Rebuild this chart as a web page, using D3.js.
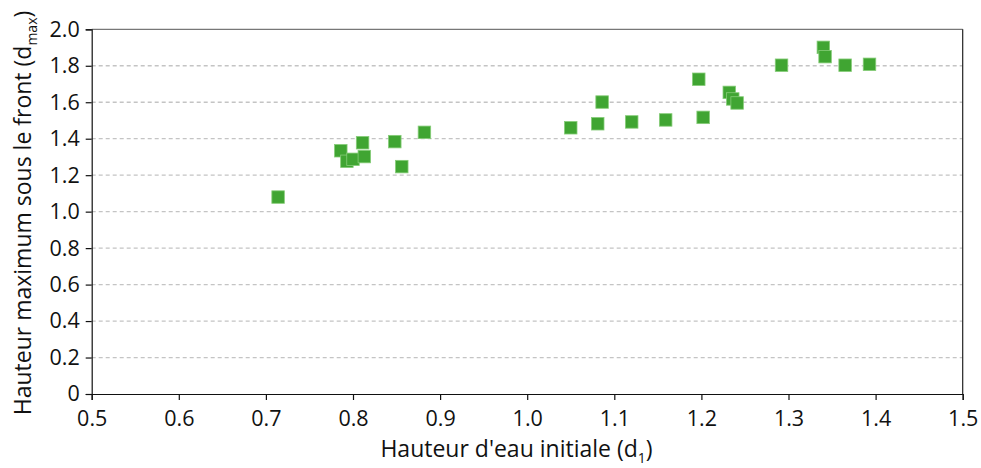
<!DOCTYPE html>
<html>
<head>
<meta charset="utf-8">
<script src="https://cdn.jsdelivr.net/npm/d3@7"></script>
<style>
  html, body { margin: 0; padding: 0; background: #fff; }
  svg { display: block; }
  text { font-family: "Open Sans", "Noto Sans", sans-serif; fill: #111; }
</style>
</head>
<body>
<svg id="chart" width="981" height="468"></svg>
<script>
// Initial water depth d1 and maximum depth under the front dmax
const d1 = [0.714, 0.786, 0.793, 0.800, 0.811, 0.813, 0.848, 0.856, 0.882,
            1.050, 1.081, 1.086, 1.120, 1.159, 1.197, 1.202, 1.232, 1.236, 1.241,
            1.292, 1.340, 1.342, 1.365, 1.393];
const dmax = [1.08, 1.334, 1.276, 1.287, 1.378, 1.302, 1.384, 1.247, 1.435,
              1.46, 1.482, 1.601, 1.492, 1.503, 1.726, 1.517, 1.654, 1.618, 1.596,
              1.803, 1.901, 1.85, 1.803, 1.808];
const xTicks = [0.5, 0.6, 0.7, 0.8, 0.9, 1.0, 1.1, 1.2, 1.3, 1.4, 1.5];
const yTicks = [0, 0.2, 0.4, 0.6, 0.8, 1.0, 1.2, 1.4, 1.6, 1.8, 2.0];

const svg = d3.select("#chart");
const plotL = 91.7, plotR = 962.7, plotT = 29.3, plotB = 394;

const x = d3.scaleLinear().domain([0.5, 1.5]).range([plotL, plotR]);
const y = d3.scaleLinear().domain([0, 2.0]).range([plotB, plotT]);

const fmtY = v => v === 0 ? "0" : v.toFixed(1);

// dashed horizontal gridlines
svg.append("g").selectAll("line")
  .data(yTicks.filter(v => v > 0 && v < 2))
  .join("line")
  .attr("x1", plotL).attr("x2", plotR)
  .attr("y1", d => y(d)).attr("y2", d => y(d))
  .attr("stroke", "#c4c4c4").attr("stroke-width", 1.3)
  .attr("stroke-dasharray", "4,3");

// frame: top and right edges
svg.append("line").attr("x1", plotL).attr("x2", plotR).attr("y1", plotT).attr("y2", plotT)
  .attr("stroke", "#777").attr("stroke-width", 1.2);
svg.append("line").attr("x1", plotR).attr("x2", plotR).attr("y1", plotT).attr("y2", plotB)
  .attr("stroke", "#222").attr("stroke-width", 1.2);

// x axis
const xAxis = svg.append("g").attr("transform", `translate(0,${plotB})`)
  .call(d3.axisBottom(x).tickValues(xTicks).tickSizeOuter(0).tickSize(6).tickPadding(11)
        .tickFormat(d3.format(".1f")));
xAxis.select(".domain").attr("stroke", "#111").attr("stroke-width", 1.2);
xAxis.selectAll(".tick line").attr("stroke", "#111").attr("stroke-width", 1.2);
xAxis.selectAll(".tick text").attr("font-size", 21.5).attr("fill", "#111")
  .style("font-family", "'Open Sans', sans-serif");

// y axis
const yAxis = svg.append("g").attr("transform", `translate(${plotL},0)`)
  .call(d3.axisLeft(y).tickValues(yTicks).tickSizeOuter(0).tickSize(6).tickPadding(6)
        .tickFormat(fmtY));
yAxis.select(".domain").attr("stroke", "#111").attr("stroke-width", 1.2);
yAxis.selectAll(".tick line").attr("stroke", "#111").attr("stroke-width", 1.2);
yAxis.selectAll(".tick text").attr("font-size", 21.5).attr("fill", "#111")
  .style("font-family", "'Open Sans', sans-serif");

// axis titles
const xt = svg.append("text").attr("x", 516.5).attr("y", 456.5)
  .attr("text-anchor", "middle").attr("font-size", 23);
xt.append("tspan").text("Hauteur d'eau initiale (d");
xt.append("tspan").attr("font-size", 14).attr("dy", 6).text("1");
xt.append("tspan").attr("dy", -6).text(")");

const yt = svg.append("text")
  .attr("transform", `translate(31,213) rotate(-90)`)
  .attr("text-anchor", "middle").attr("font-size", 23);
yt.append("tspan").text("Hauteur maximum sous le front (d");
yt.append("tspan").attr("font-size", 14).attr("dy", 6).text("max");
yt.append("tspan").attr("dy", -6).text(")");

// data markers
const s = 12.5;
svg.append("g").selectAll("rect")
  .data(d1.map((v, i) => [v, dmax[i]]))
  .join("rect")
  .attr("x", d => x(d[0]) - s / 2)
  .attr("y", d => y(d[1]) - s / 2)
  .attr("width", s).attr("height", s)
  .attr("fill", "#40a532")
  .attr("stroke", "#86cc78").attr("stroke-width", 0.8);
</script>
</body>
</html>
